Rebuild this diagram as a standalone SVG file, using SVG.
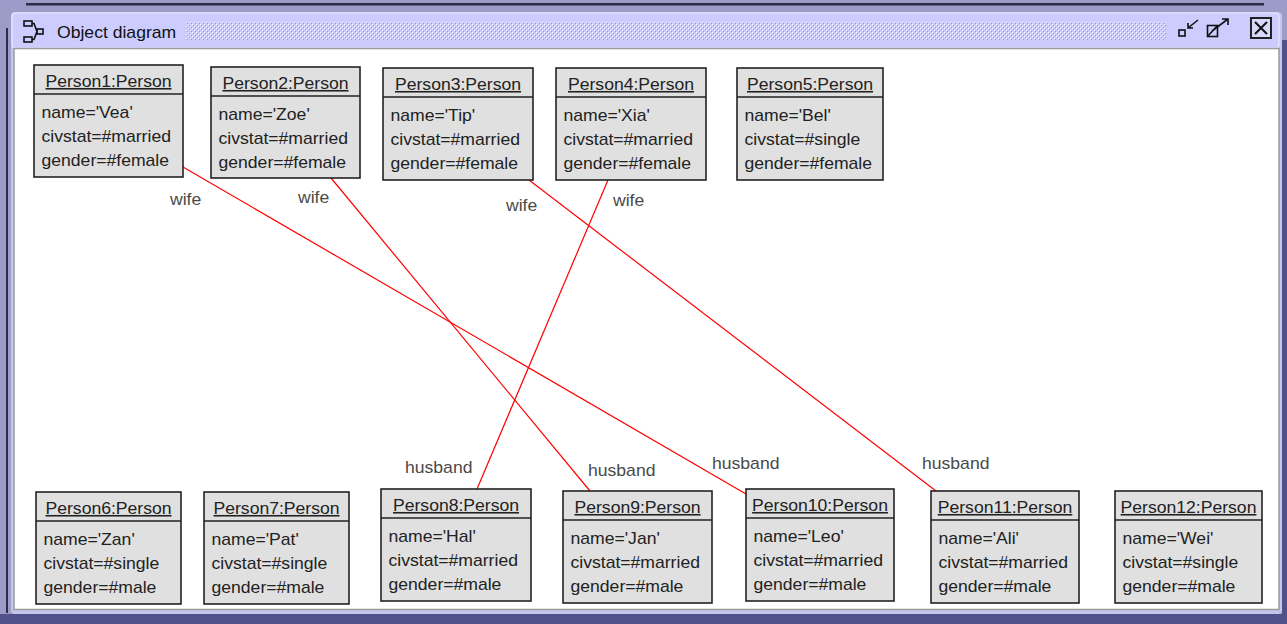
<svg xmlns="http://www.w3.org/2000/svg" width="1287" height="624" viewBox="0 0 1287 624">
<defs>
<pattern id="dots" width="4" height="4" patternUnits="userSpaceOnUse">
<rect width="4" height="4" fill="#ccccff"/>
<rect x="0" y="0" width="1" height="1" fill="#f4f4ff"/>
<rect x="2" y="2" width="1" height="1" fill="#f4f4ff"/>
<rect x="1" y="1" width="1" height="1" fill="#9898c8"/>
<rect x="3" y="3" width="1" height="1" fill="#9898c8"/>
</pattern>
<style>
text{font-family:"Liberation Sans",Arial,sans-serif;font-size:16px;fill:#222}
.t{text-anchor:middle;text-decoration:underline}
.lbl{fill:#4a4a4a}
.box{fill:#e0e0e0;stroke:#222;stroke-width:1.6}
.div{stroke:#222;stroke-width:1.6}
.edge{stroke:#ff0000;stroke-width:1.2;fill:none}
.ic{fill:none;stroke:#111;stroke-width:1.6}
</style>
</defs>
<!-- window chrome -->
<rect x="0" y="0" width="1287" height="624" fill="#9c9cc8"/>
<rect x="26" y="3" width="1238" height="2.5" fill="#2c2c48"/>
<rect x="6" y="28" width="2" height="585" fill="#2c2c48"/>
<rect x="11" y="12" width="1271" height="602" rx="4" fill="#c6c6ea"/>
<rect x="0" y="614" width="1287" height="10" fill="#50508a"/>
<rect x="1282" y="40" width="5" height="584" fill="#50508a"/>
<rect x="12" y="13" width="1267" height="35" rx="3" fill="#ccccff" stroke="#eeeeff" stroke-width="1"/>
<rect x="186" y="22" width="980" height="18" fill="url(#dots)"/>
<rect x="14" y="48.5" width="1265" height="561" fill="#ffffff" stroke="#9a9a9a" stroke-width="1.5"/>
<g id="title-icon" class="ic">
<rect x="24" y="21" width="8" height="5"/>
<rect x="37" y="29" width="6" height="5"/>
<rect x="24" y="37" width="8" height="5"/>
<path d="M32 23.5 H34 L37 31.5 M32 39.5 H34 L37 31.5"/>
</g>
<text transform="translate(57,38) scale(1.1,1)" style="fill:#111">Object diagram</text>
<g id="win-buttons" class="ic">
<rect x="1179" y="30" width="6" height="6"/>
<path d="M1198 20 L1188 28 M1188 23 V28 H1193"/>
<rect x="1207.5" y="25.5" width="10" height="11"/>
<path d="M1207.5 36.5 L1217.5 25.5 M1212 31 L1228 19 M1222 19 H1228 V25"/>
<rect x="1251" y="18" width="20" height="20" fill="#d8d8f8" stroke="#222" stroke-width="2"/>
<path d="M1255 22 L1267 34 M1267 22 L1255 34" stroke-width="2"/>
</g>
<!-- connectors -->
<g id="connectors">
<line class="edge" x1="183" y1="167" x2="746" y2="494"/>
<line class="edge" x1="331" y1="178" x2="590" y2="491"/>
<line class="edge" x1="529" y1="180" x2="936" y2="491"/>
<line class="edge" x1="608" y1="180" x2="477" y2="489"/>
<text class="lbl" transform="translate(170,205) scale(1.1,1)">wife</text>
<text class="lbl" transform="translate(298,203) scale(1.1,1)">wife</text>
<text class="lbl" transform="translate(506,211) scale(1.1,1)">wife</text>
<text class="lbl" transform="translate(613,206) scale(1.1,1)">wife</text>
<text class="lbl" transform="translate(405,473) scale(1.1,1)">husband</text>
<text class="lbl" transform="translate(588,476) scale(1.1,1)">husband</text>
<text class="lbl" transform="translate(712,469) scale(1.1,1)">husband</text>
<text class="lbl" transform="translate(922,469) scale(1.1,1)">husband</text>
</g>
<!-- nodes -->
<g id="Person1">
<rect class="box" x="34" y="65" width="149" height="112"/>
<line class="div" x1="34" y1="94" x2="183" y2="94"/>
<text class="t" transform="translate(108.5,87) scale(1.1,1)">Person1:Person</text>
<text transform="translate(41.5,117.5) scale(1.1,1)">name='Vea'</text>
<text transform="translate(41.5,141.5) scale(1.1,1)">civstat=#married</text>
<text transform="translate(41.5,165.5) scale(1.1,1)">gender=#female</text>
</g>
<g id="Person2">
<rect class="box" x="211" y="67" width="149" height="111"/>
<line class="div" x1="211" y1="96" x2="360" y2="96"/>
<text class="t" transform="translate(285.5,89) scale(1.1,1)">Person2:Person</text>
<text transform="translate(218.5,119.5) scale(1.1,1)">name='Zoe'</text>
<text transform="translate(218.5,143.5) scale(1.1,1)">civstat=#married</text>
<text transform="translate(218.5,167.5) scale(1.1,1)">gender=#female</text>
</g>
<g id="Person3">
<rect class="box" x="383" y="68" width="150" height="112"/>
<line class="div" x1="383" y1="97" x2="533" y2="97"/>
<text class="t" transform="translate(458,90) scale(1.1,1)">Person3:Person</text>
<text transform="translate(390.5,120.5) scale(1.1,1)">name='Tip'</text>
<text transform="translate(390.5,144.5) scale(1.1,1)">civstat=#married</text>
<text transform="translate(390.5,168.5) scale(1.1,1)">gender=#female</text>
</g>
<g id="Person4">
<rect class="box" x="556" y="68" width="150" height="112"/>
<line class="div" x1="556" y1="97" x2="706" y2="97"/>
<text class="t" transform="translate(631,90) scale(1.1,1)">Person4:Person</text>
<text transform="translate(563.5,120.5) scale(1.1,1)">name='Xia'</text>
<text transform="translate(563.5,144.5) scale(1.1,1)">civstat=#married</text>
<text transform="translate(563.5,168.5) scale(1.1,1)">gender=#female</text>
</g>
<g id="Person5">
<rect class="box" x="737" y="68" width="146" height="112"/>
<line class="div" x1="737" y1="97" x2="883" y2="97"/>
<text class="t" transform="translate(810,90) scale(1.1,1)">Person5:Person</text>
<text transform="translate(744.5,120.5) scale(1.1,1)">name='Bel'</text>
<text transform="translate(744.5,144.5) scale(1.1,1)">civstat=#single</text>
<text transform="translate(744.5,168.5) scale(1.1,1)">gender=#female</text>
</g>
<g id="Person6">
<rect class="box" x="36" y="492" width="145" height="112"/>
<line class="div" x1="36" y1="521" x2="181" y2="521"/>
<text class="t" transform="translate(108.5,514) scale(1.1,1)">Person6:Person</text>
<text transform="translate(43.5,544.5) scale(1.1,1)">name='Zan'</text>
<text transform="translate(43.5,568.5) scale(1.1,1)">civstat=#single</text>
<text transform="translate(43.5,592.5) scale(1.1,1)">gender=#male</text>
</g>
<g id="Person7">
<rect class="box" x="204" y="492" width="145" height="112"/>
<line class="div" x1="204" y1="521" x2="349" y2="521"/>
<text class="t" transform="translate(276.5,514) scale(1.1,1)">Person7:Person</text>
<text transform="translate(211.5,544.5) scale(1.1,1)">name='Pat'</text>
<text transform="translate(211.5,568.5) scale(1.1,1)">civstat=#single</text>
<text transform="translate(211.5,592.5) scale(1.1,1)">gender=#male</text>
</g>
<g id="Person8">
<rect class="box" x="381" y="489" width="150" height="112"/>
<line class="div" x1="381" y1="518" x2="531" y2="518"/>
<text class="t" transform="translate(456,511) scale(1.1,1)">Person8:Person</text>
<text transform="translate(388.5,541.5) scale(1.1,1)">name='Hal'</text>
<text transform="translate(388.5,565.5) scale(1.1,1)">civstat=#married</text>
<text transform="translate(388.5,589.5) scale(1.1,1)">gender=#male</text>
</g>
<g id="Person9">
<rect class="box" x="563" y="491" width="149" height="112"/>
<line class="div" x1="563" y1="520" x2="712" y2="520"/>
<text class="t" transform="translate(637.5,513) scale(1.1,1)">Person9:Person</text>
<text transform="translate(570.5,543.5) scale(1.1,1)">name='Jan'</text>
<text transform="translate(570.5,567.5) scale(1.1,1)">civstat=#married</text>
<text transform="translate(570.5,591.5) scale(1.1,1)">gender=#male</text>
</g>
<g id="Person10">
<rect class="box" x="746" y="489" width="148" height="112"/>
<line class="div" x1="746" y1="518" x2="894" y2="518"/>
<text class="t" transform="translate(820,511) scale(1.1,1)">Person10:Person</text>
<text transform="translate(753.5,541.5) scale(1.1,1)">name='Leo'</text>
<text transform="translate(753.5,565.5) scale(1.1,1)">civstat=#married</text>
<text transform="translate(753.5,589.5) scale(1.1,1)">gender=#male</text>
</g>
<g id="Person11">
<rect class="box" x="931" y="491" width="148" height="112"/>
<line class="div" x1="931" y1="520" x2="1079" y2="520"/>
<text class="t" transform="translate(1005,513) scale(1.1,1)">Person11:Person</text>
<text transform="translate(938.5,543.5) scale(1.1,1)">name='Ali'</text>
<text transform="translate(938.5,567.5) scale(1.1,1)">civstat=#married</text>
<text transform="translate(938.5,591.5) scale(1.1,1)">gender=#male</text>
</g>
<g id="Person12">
<rect class="box" x="1115" y="491" width="147" height="112"/>
<line class="div" x1="1115" y1="520" x2="1262" y2="520"/>
<text class="t" transform="translate(1188.5,513) scale(1.1,1)">Person12:Person</text>
<text transform="translate(1122.5,543.5) scale(1.1,1)">name='Wei'</text>
<text transform="translate(1122.5,567.5) scale(1.1,1)">civstat=#single</text>
<text transform="translate(1122.5,591.5) scale(1.1,1)">gender=#male</text>
</g>
</svg>
